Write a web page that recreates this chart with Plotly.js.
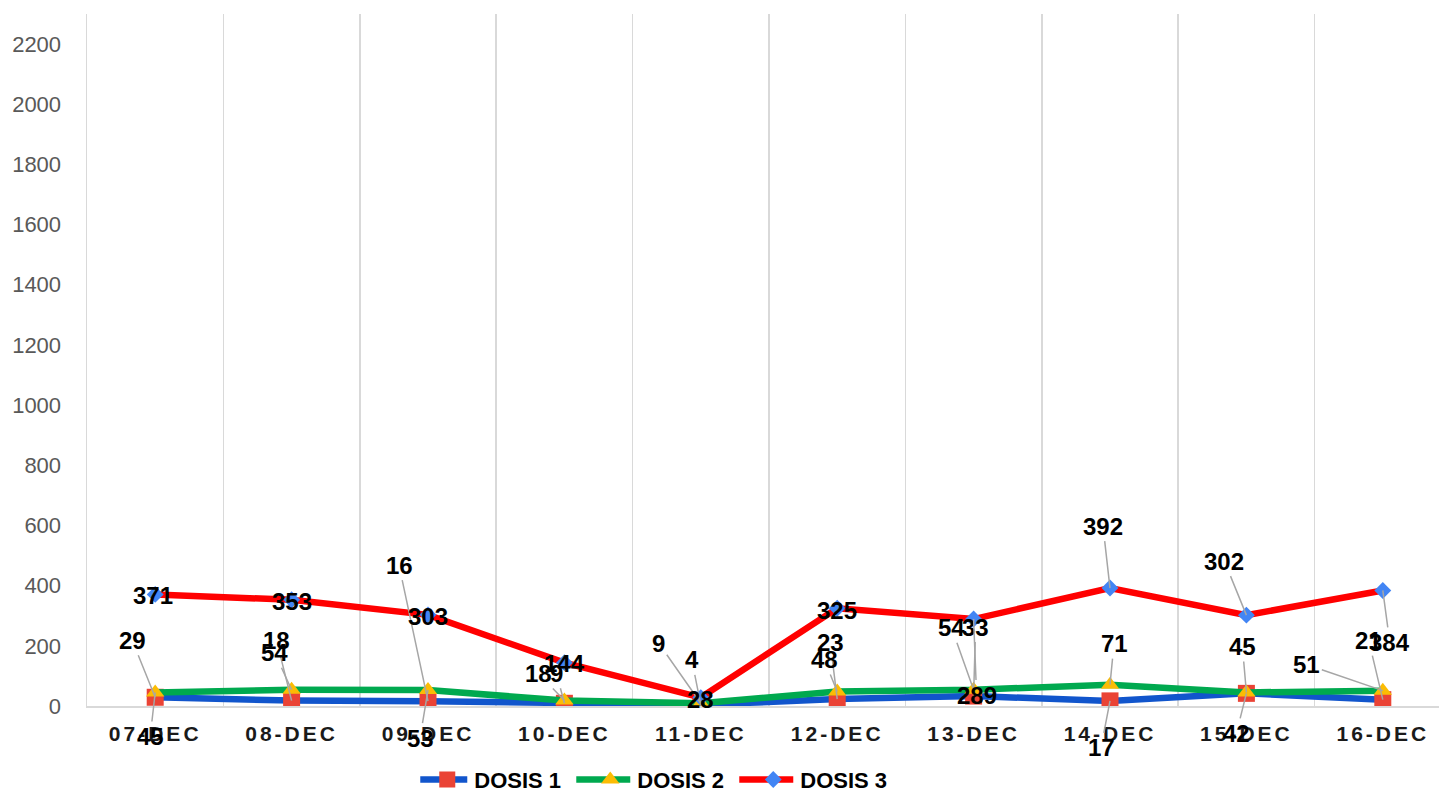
<!DOCTYPE html>
<html>
<head>
<meta charset="utf-8">
<script src="https://cdn.plot.ly/plotly-3.0.1.min.js"></script>
<style>
  html, body { margin: 0; padding: 0; background: #fff; }
  #chart { width: 1439px; height: 790px; }
  .xtick text { letter-spacing: 3px; }
</style>
</head>
<body>
<div id="chart"></div>
<script>
// ---- data ----
const categories = ['07-DEC', '08-DEC', '09-DEC', '10-DEC', '11-DEC', '12-DEC', '13-DEC', '14-DEC', '15-DEC', '16-DEC'];
const dosis1 = [29, 18, 16, 9, 4, 23, 33, 17, 42, 21];
const dosis2 = [45, 54, 53, 18, 9, 48, 54, 71, 45, 51];
const dosis3 = [371, 353, 303, 144, 28, 325, 289, 392, 302, 384];
const seriesNames = ['DOSIS 1', 'DOSIS 2', 'DOSIS 3'];
const yTickValues = [0, 200, 400, 600, 800, 1000, 1200, 1400, 1600, 1800, 2000, 2200];

// ---- label placement (pixel offsets of each data label from its point) ----
const labelOffsets1 = [[-23,-57],[-15,-60],[-29,-136],[-8,-30],[-9,-45],[-7,-57],[2,-69],[-9,47],[-10,40],[-14,-59]];
const labelOffsets2 = [[-5,44],[-17,-37],[-8,48],[-26,-27],[-42,-60],[-13,-32],[-22,-62],[4,-41],[-4,-46],[-76,-26]];
const labelOffsets3 = [[-2,1],[0,2],[0,2],[0,1],[0,2],[0,2],[3,76],[-7,-62],[-22,-54],[7,52]];

const FONT = '"Liberation Sans", Arial, sans-serif';

const styles = [
  { line: '#1155CC', marker: '#EA4335', symbol: 'square', size: 17 },
  { line: '#00A94F', marker: '#FBBC04', symbol: 'triangle-up', size: 16 },
  { line: '#FF0000', marker: '#4285F4', symbol: 'diamond', size: 13 }
];
const allSeries = [dosis1, dosis2, dosis3];
const allOffsets = [labelOffsets1, labelOffsets2, labelOffsets3];

const traces = allSeries.map((vals, k) => ({
  type: 'scatter',
  mode: 'lines+markers',
  name: seriesNames[k],
  x: categories,
  y: vals,
  line: { color: styles[k].line, width: 6.5 },
  marker: { color: styles[k].marker, symbol: styles[k].symbol, size: styles[k].size, line: { width: 0 } },
  hoverinfo: 'skip'
}));

const annotations = [];
allSeries.forEach((vals, k) => {
  vals.forEach((v, i) => {
    annotations.push({
      x: categories[i], y: v, xref: 'x', yref: 'y',
      text: String(v),
      showarrow: true, arrowhead: 0, arrowwidth: 1.5, arrowcolor: '#A6A6A6', standoff: 0,
      ax: allOffsets[k][i][0], ay: allOffsets[k][i][1],
      font: { family: FONT, size: 24, color: '#000000', weight: 'bold' }
    });
  });
});

const layout = {
  width: 1439, height: 790,
  margin: { l: 87, r: 0, t: 14, b: 83.5, autoexpand: false },
  paper_bgcolor: '#ffffff', plot_bgcolor: '#ffffff',
  showlegend: true,
  legend: {
    orientation: 'h', x: 0.2465, xanchor: 'left', y: -0.1065, yanchor: 'middle',
    font: { family: FONT, size: 22, color: '#000000', weight: 'bold' },
    itemwidth: 44,
    entrywidth: 104, entrywidthmode: 'pixels', tracegroupgap: 0
  },
  xaxis: {
    type: 'category',
    range: [-0.5, 9.412],
    tickson: 'boundaries',
    showgrid: true, gridcolor: '#D9D9D9', gridwidth: 1.5,
    showline: true, linecolor: '#D9D9D9', linewidth: 1.5,
    ticks: '', ticklabelstandoff: 8,
    tickfont: { family: FONT, size: 21, color: '#1A1A1A', weight: 'bold' },
    zeroline: false, fixedrange: true
  },
  yaxis: {
    range: [0, 2300],
    tickmode: 'array', tickvals: yTickValues, ticktext: yTickValues.map(String),
    showgrid: false, zeroline: false,
    showline: true, linecolor: '#D9D9D9', linewidth: 1.5,
    ticks: '', ticklabelstandoff: 20,
    tickfont: { family: FONT, size: 22, color: '#595959' },
    fixedrange: true
  },
  annotations: annotations
};

Plotly.newPlot('chart', traces, layout, { displayModeBar: false, staticPlot: true }).then(gd => {
  // lengthen the legend line swatches to look like the reference
  gd.querySelectorAll('.legend .legendlines path').forEach(p => p.setAttribute('d', 'M-7,0h54'));
});
</script>
</body>
</html>
